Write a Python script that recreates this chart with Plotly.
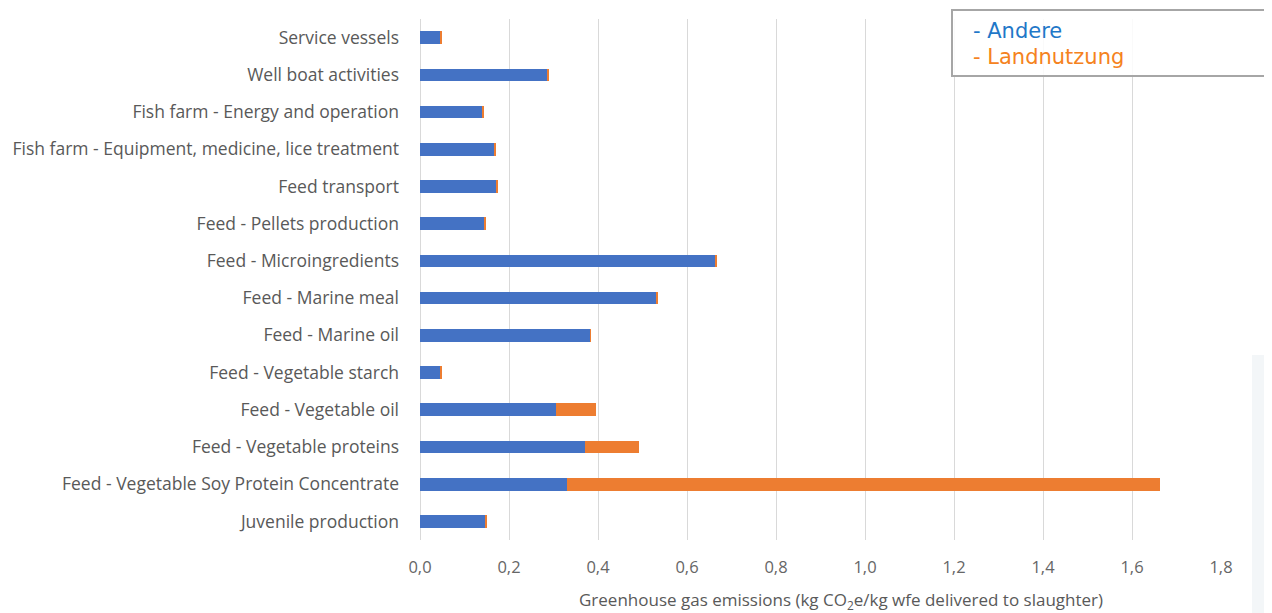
import plotly.graph_objects as go

categories = [
    "Service vessels",
    "Well boat activities",
    "Fish farm - Energy and operation",
    "Fish farm - Equipment, medicine, lice treatment",
    "Feed transport",
    "Feed - Pellets production",
    "Feed - Microingredients",
    "Feed - Marine meal",
    "Feed - Marine oil",
    "Feed - Vegetable starch",
    "Feed - Vegetable oil",
    "Feed - Vegetable proteins",
    "Feed - Vegetable Soy Protein Concentrate",
    "Juvenile production",
]
andere = [0.047, 0.286, 0.140, 0.168, 0.172, 0.146, 0.664, 0.531, 0.383, 0.047, 0.305, 0.370, 0.330, 0.147]
landnutzung = [0.002, 0.002, 0.002, 0.002, 0.002, 0.002, 0.002, 0.002, 0.001, 0.001, 0.091, 0.121, 1.334, 0.002]
x_ticks = [0.0, 0.2, 0.4, 0.6, 0.8, 1.0, 1.2, 1.4, 1.6, 1.8]

BLUE = "#4472C4"
ORANGE = "#ED7D31"
LABEL_FONT = "Open Sans"

fig = go.Figure()
fig.add_trace(go.Bar(y=categories, x=andere, orientation="h", name="Andere",
                     marker=dict(color=BLUE, line=dict(width=0)), width=0.34))
fig.add_trace(go.Bar(y=categories, x=landnutzung, orientation="h", name="Landnutzung",
                     marker=dict(color=ORANGE, line=dict(width=0)), width=0.34))

OFF = 8  # page body margin
W, H = 1272 - OFF, 613 - OFF
PL, PR, PT, PB = 420, 1221, 19, 540  # plot area in window pixels
L, R, T, B = PL - OFF, (W + OFF) - PR, PT - OFF, (H + OFF) - PB
PW, PH = PR - PL, PB - PT


def px(x):
    return (x - PL) / PW


def py(y):
    return (PB - y) / PH


fig.update_layout(
    width=W, height=H,
    barmode="stack",
    showlegend=False,
    separators=", ",
    paper_bgcolor="white",
    plot_bgcolor="white",
    margin=dict(l=L, r=R, t=T, b=B, pad=0, autoexpand=False),
    font=dict(family=LABEL_FONT, color="#595959", size=16),
    xaxis=dict(
        range=[0, 1.8],
        tickvals=x_ticks,
        tickformat=".1f",
        showgrid=True, gridcolor="#d9d9d9", gridwidth=1,
        zeroline=True, zerolinecolor="#d9d9d9", zerolinewidth=1,
        showline=False,
        ticks="",
        automargin=False,
        ticklabelstandoff=15,
        tickfont=dict(family=LABEL_FONT, size=16.5, color="#666666"),
        fixedrange=True,
    ),
    yaxis=dict(
        autorange="reversed",
        showgrid=False,
        showline=False,
        ticks="",
        automargin=False,
        ticklabelstandoff=20,
        tickfont=dict(family=LABEL_FONT, size=17.5, color="#595959"),
        fixedrange=True,
    ),
)

# subtle decorative background panel at the right
fig.add_shape(type="rect", xref="paper", yref="paper",
              x0=px(1252), x1=px(1290), y0=py(640), y1=py(355),
              fillcolor="#f3f6f8", line=dict(width=0), layer="below")

# legend box
fig.add_shape(type="rect", xref="paper", yref="paper",
              x0=px(952), x1=px(1300), y0=py(76), y1=py(10),
              fillcolor="rgba(255,255,255,0.85)", line=dict(color="#a6a6a6", width=2))
fig.add_annotation(xref="paper", yref="paper", x=px(971), y=py(31),
                   xanchor="left", yanchor="middle", showarrow=False,
                   text="- Andere", font=dict(family="DejaVu Sans", size=21, color="#1F78C8"))
fig.add_annotation(xref="paper", yref="paper", x=px(971), y=py(57),
                   xanchor="left", yanchor="middle", showarrow=False,
                   text="- Landnutzung", font=dict(family="DejaVu Sans", size=21, color="#F58220"))

# axis title
fig.add_annotation(xref="paper", yref="paper", x=px(841), y=py(600),
                   xanchor="center", yanchor="middle", showarrow=False,
                   text="Greenhouse gas emissions (kg CO<sub>2</sub>e/kg wfe delivered to slaughter)",
                   font=dict(family=LABEL_FONT, size=17, color="#595959"))

fig.write_html("out.html")
